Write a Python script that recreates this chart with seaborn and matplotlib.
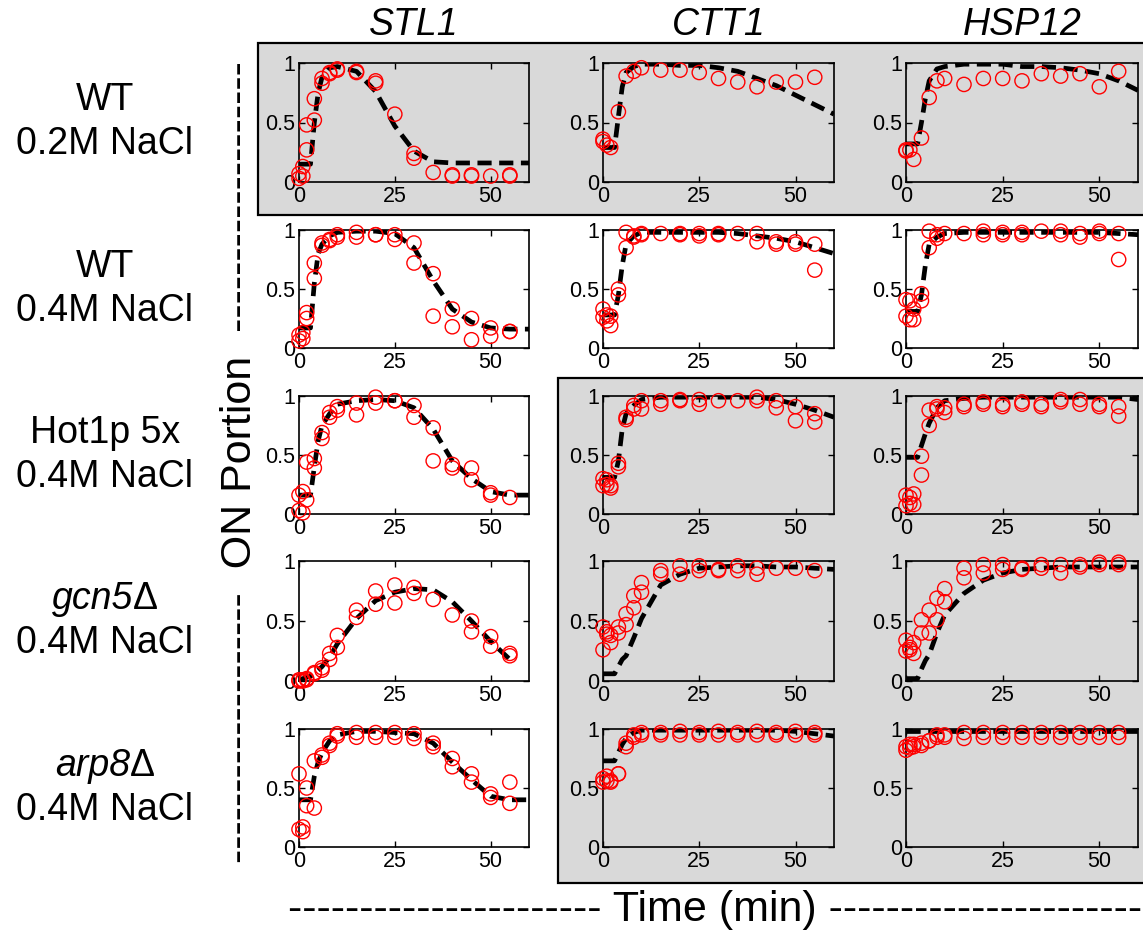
import numpy as np
import matplotlib.pyplot as plt
import seaborn as sns
from matplotlib.patches import Rectangle

nan = np.nan

# --- Data ---
T_OBS = [0, 1, 2, 4, 6, 8, 10, 15, 20, 25, 30, 35, 40, 45, 50, 55]
FIT_T = [0, 3, 4, 5, 6, 8, 10, 15, 20, 25, 30, 35, 40, 45, 50, 55, 60]

GENES = ["STL1", "CTT1", "HSP12"]
STRAINS = ["WT", "WT", "Hot1p 5x", "gcn5", "arp8"]
ITALIC_STRAIN = [False, False, False, True, True]
SALTS = ["0.2M NaCl", "0.4M NaCl", "0.4M NaCl", "0.4M NaCl", "0.4M NaCl"]

# WT 0.2M
STL1_WT02_A = [0.07, 0.13, 0.48, 0.70, 0.87, 0.92, 0.95, 0.93, 0.85, 0.57, 0.24, 0.08, 0.06, 0.06, 0.05, 0.06]
STL1_WT02_B = [0.03, 0.05, 0.27, 0.52, 0.83, 0.91, 0.94, 0.92, 0.83, nan, 0.20, nan, 0.05, 0.05, nan, 0.05]
STL1_WT02_FIT = [0.15, 0.15, 0.5, 0.75, 0.88, 0.96, 0.97, 0.93, 0.76, 0.47, 0.26, 0.17, 0.16, 0.16, 0.16, 0.16, 0.16]
CTT1_WT02_A = [0.36, 0.31, 0.29, 0.59, 0.89, 0.93, 0.96, 0.94, 0.94, 0.92, 0.87, 0.84, 0.80, 0.84, 0.84, 0.88]
CTT1_WT02_B = [0.34, nan, nan, nan, nan, nan, nan, nan, nan, nan, nan, nan, nan, nan, nan, nan]
CTT1_WT02_FIT = [0.29, 0.29, 0.55, 0.8, 0.92, 0.97, 0.99, 0.99, 0.98, 0.98, 0.96, 0.93, 0.87, 0.81, 0.73, 0.65, 0.57]
HSP12_WT02_A = [0.27, 0.27, 0.19, 0.37, 0.71, 0.85, 0.87, 0.82, 0.87, 0.87, 0.85, 0.91, 0.89, 0.91, 0.80, 0.93]
HSP12_WT02_B = [0.26, nan, nan, nan, nan, nan, nan, nan, nan, nan, nan, nan, nan, nan, nan, nan]
HSP12_WT02_FIT = [0.32, 0.32, 0.5, 0.7, 0.85, 0.95, 0.97, 0.99, 0.99, 0.99, 0.97, 0.97, 0.96, 0.94, 0.91, 0.85, 0.77]

# WT 0.4M
STL1_WT04_A = [0.11, 0.13, 0.30, 0.72, 0.89, 0.92, 0.96, 0.98, 0.96, 0.96, 0.89, 0.63, 0.33, 0.25, 0.17, 0.14]
STL1_WT04_B = [0.06, 0.08, 0.25, 0.59, 0.87, 0.91, 0.94, 0.94, 0.96, 0.92, 0.72, 0.27, 0.18, 0.07, 0.10, 0.14]
STL1_WT04_FIT = [0.17, 0.17, 0.55, 0.8, 0.88, 0.95, 0.98, 0.99, 0.99, 0.97, 0.85, 0.57, 0.33, 0.22, 0.17, 0.16, 0.16]
CTT1_WT04_A = [0.33, 0.28, 0.27, 0.50, 0.98, 0.95, 0.97, 0.97, 0.97, 0.97, 0.97, 0.97, 0.97, 0.90, 0.90, 0.88]
CTT1_WT04_B = [0.26, 0.23, 0.19, 0.45, 0.85, 0.94, 0.96, nan, 0.96, 0.95, 0.96, nan, 0.90, 0.88, 0.88, 0.66]
CTT1_WT04_FIT = [0.28, 0.28, 0.45, 0.7, 0.88, 0.95, 0.98, 0.98, 0.98, 0.98, 0.98, 0.97, 0.95, 0.93, 0.90, 0.85, 0.80]
HSP12_WT04_A = [0.41, 0.40, 0.33, 0.46, 0.99, 0.96, 0.97, 0.97, 0.99, 0.98, 0.98, 0.99, 0.99, 0.97, 0.99, 0.97]
HSP12_WT04_B = [0.27, 0.24, 0.24, 0.40, 0.85, 0.93, nan, nan, 0.96, 0.96, 0.96, nan, 0.96, 0.94, 0.97, 0.75]
HSP12_WT04_FIT = [0.31, 0.31, 0.45, 0.7, 0.88, 0.94, 0.97, 0.98, 0.98, 0.98, 0.98, 0.98, 0.98, 0.98, 0.98, 0.97, 0.96]

# Hot1p 5x
STL1_HOT_A = [0.16, 0.19, 0.44, 0.47, 0.69, 0.86, 0.91, 0.94, 0.99, 0.96, 0.92, 0.73, 0.42, 0.39, 0.18, 0.14]
STL1_HOT_B = [0.03, 0.01, 0.12, 0.39, 0.64, 0.82, 0.88, 0.84, 0.94, 0.96, 0.82, 0.45, 0.39, 0.29, 0.16, nan]
STL1_HOT_FIT = [0.16, 0.16, 0.4, 0.62, 0.75, 0.85, 0.93, 0.96, 0.97, 0.96, 0.90, 0.72, 0.45, 0.3, 0.19, 0.16, 0.16]
CTT1_HOT_A = [0.30, 0.29, 0.24, 0.43, 0.82, 0.92, 0.96, 0.96, 0.97, 0.97, 0.96, 0.96, 0.99, 0.96, 0.91, 0.85]
CTT1_HOT_B = [0.24, 0.25, 0.22, 0.40, 0.80, 0.89, 0.89, 0.93, 0.96, 0.93, nan, nan, 0.96, 0.90, 0.79, 0.78]
CTT1_HOT_FIT = [0.31, 0.31, 0.45, 0.72, 0.85, 0.92, 0.97, 0.99, 0.99, 0.99, 0.99, 0.99, 0.99, 0.97, 0.93, 0.88, 0.82]
HSP12_HOT_A = [0.16, 0.14, 0.17, 0.49, 0.88, 0.91, 0.90, 0.93, 0.95, 0.93, 0.95, 0.93, 0.97, 0.97, 0.93, 0.91]
HSP12_HOT_B = [0.07, 0.09, 0.08, 0.33, 0.75, 0.89, 0.86, 0.91, 0.93, 0.91, 0.93, 0.91, 0.95, 0.93, 0.91, 0.83]
HSP12_HOT_FIT = [0.48, 0.48, 0.58, 0.68, 0.77, 0.9, 0.96, 0.98, 0.99, 0.99, 0.99, 0.99, 0.99, 0.99, 0.99, 0.99, 0.97]

# gcn5 delta
STL1_GCN5_A = [0.01, 0.01, 0.02, 0.07, 0.11, 0.23, 0.38, 0.59, 0.75, 0.80, 0.78, 0.68, 0.55, 0.50, 0.37, 0.23]
STL1_GCN5_B = [0.0, 0.0, 0.01, 0.06, 0.09, 0.18, 0.28, 0.53, 0.64, 0.65, 0.73, nan, nan, 0.41, 0.29, 0.21]
STL1_GCN5_FIT = [0.01, 0.04, 0.06, 0.09, 0.12, 0.2, 0.31, 0.52, 0.67, 0.74, 0.77, 0.76, 0.66, 0.50, 0.33, 0.18, nan]
CTT1_GCN5_A = [0.45, 0.41, 0.38, 0.45, 0.56, 0.71, 0.82, 0.92, 0.96, 0.96, 0.93, 0.96, 0.94, 0.94, 0.94, 0.92]
CTT1_GCN5_B = [0.26, 0.39, 0.32, 0.40, 0.47, 0.61, 0.74, 0.89, 0.89, 0.92, 0.92, 0.92, 0.89, nan, nan, nan]
CTT1_GCN5_FIT = [0.06, 0.06, 0.12, 0.18, 0.21, 0.36, 0.52, 0.80, 0.89, 0.94, 0.95, 0.96, 0.96, 0.95, 0.95, 0.94, 0.93]
HSP12_GCN5_A = [0.34, 0.28, 0.32, 0.51, 0.59, 0.69, 0.77, 0.94, 0.97, 0.97, 0.94, 0.97, 0.97, 0.97, 0.99, 0.99]
HSP12_GCN5_B = [0.25, 0.26, 0.23, 0.40, 0.40, 0.51, 0.66, 0.86, 0.90, 0.93, 0.93, 0.94, 0.90, 0.95, 0.97, 0.97]
HSP12_GCN5_FIT = [0.02, 0.02, 0.1, 0.17, 0.22, 0.4, 0.55, 0.73, 0.84, 0.9, 0.93, 0.94, 0.95, 0.95, 0.95, 0.95, 0.95]

# arp8 delta
STL1_ARP8_A = [0.62, 0.17, 0.50, 0.73, 0.78, 0.88, 0.96, 0.97, 0.97, 0.97, 0.96, 0.88, 0.75, 0.62, 0.45, 0.55]
STL1_ARP8_B = [0.15, 0.13, 0.35, 0.33, 0.76, 0.86, 0.94, 0.93, 0.93, 0.93, 0.92, 0.85, 0.68, 0.55, 0.42, 0.37]
STL1_ARP8_FIT = [0.4, 0.4, 0.6, 0.72, 0.8, 0.9, 0.95, 0.98, 0.98, 0.97, 0.96, 0.88, 0.72, 0.57, 0.43, 0.4, 0.4]
CTT1_ARP8_A = [0.58, 0.60, 0.55, 0.62, 0.88, 0.95, 0.97, 0.97, 0.98, 0.97, 0.98, 0.97, 0.98, 0.97, 0.98, 0.97]
CTT1_ARP8_B = [0.55, 0.56, 0.56, 0.62, 0.85, 0.93, 0.95, 0.95, 0.95, 0.95, 0.95, 0.95, 0.95, 0.95, 0.95, 0.95]
CTT1_ARP8_FIT = [0.73, 0.73, 0.8, 0.87, 0.92, 0.97, 0.99, 0.99, 0.99, 0.99, 0.99, 0.99, 0.99, 0.99, 0.98, 0.96, 0.94]
HSP12_ARP8_A = [0.85, 0.87, 0.87, 0.88, 0.90, 0.95, 0.95, 0.97, 0.97, 0.97, 0.97, 0.97, 0.97, 0.97, 0.97, 0.97]
HSP12_ARP8_B = [0.82, 0.84, 0.85, 0.86, 0.90, 0.93, 0.93, 0.92, 0.93, 0.93, 0.93, 0.93, 0.93, 0.93, 0.93, 0.93]
HSP12_ARP8_FIT = [0.98, 0.98, 0.98, 0.98, 0.98, 0.98, 0.98, 0.98, 0.98, 0.98, 0.98, 0.98, 0.98, 0.98, 0.98, 0.98, 0.98]

PANELS = [
    [(STL1_WT02_A, STL1_WT02_B, STL1_WT02_FIT), (CTT1_WT02_A, CTT1_WT02_B, CTT1_WT02_FIT), (HSP12_WT02_A, HSP12_WT02_B, HSP12_WT02_FIT)],
    [(STL1_WT04_A, STL1_WT04_B, STL1_WT04_FIT), (CTT1_WT04_A, CTT1_WT04_B, CTT1_WT04_FIT), (HSP12_WT04_A, HSP12_WT04_B, HSP12_WT04_FIT)],
    [(STL1_HOT_A, STL1_HOT_B, STL1_HOT_FIT), (CTT1_HOT_A, CTT1_HOT_B, CTT1_HOT_FIT), (HSP12_HOT_A, HSP12_HOT_B, HSP12_HOT_FIT)],
    [(STL1_GCN5_A, STL1_GCN5_B, STL1_GCN5_FIT), (CTT1_GCN5_A, CTT1_GCN5_B, CTT1_GCN5_FIT), (HSP12_GCN5_A, HSP12_GCN5_B, HSP12_GCN5_FIT)],
    [(STL1_ARP8_A, STL1_ARP8_B, STL1_ARP8_FIT), (CTT1_ARP8_A, CTT1_ARP8_B, CTT1_ARP8_FIT), (HSP12_ARP8_A, HSP12_ARP8_B, HSP12_ARP8_FIT)],
]

# panels sitting on the grey background
GREY_PANELS = {(0, 0), (0, 1), (0, 2), (2, 1), (2, 2), (3, 1), (3, 2), (4, 1), (4, 2)}

# --- Style ---
sns.set_style("ticks")
plt.rcParams['font.family'] = ['Liberation Sans', 'DejaVu Sans']
plt.rcParams['text.color'] = 'black'
plt.rcParams['xtick.color'] = 'black'
plt.rcParams['ytick.color'] = 'black'

W, H = 1143, 936
GREY = "#d9d9d9"
fig = plt.figure(figsize=(W / 100, H / 100), dpi=100)


def fx(x):
    return x / W


def fy(y):
    return 1 - y / H


# grey boxes behind the highlighted panels
for (x0, y0, x1, y1) in [(258, 43, 1150, 215), (558, 378, 1150, 883)]:
    fig.patches.append(Rectangle((fx(x0), fy(y1)), fx(x1 - x0), (y1 - y0) / H,
                                 transform=fig.transFigure, facecolor=GREY,
                                 edgecolor="black", linewidth=1.6, zorder=-5))

col_left = [299, 603, 906]
col_width = [230, 231, 232]
row_top = [63, 230, 396, 561, 729]
row_bottom = [182, 348, 514, 681, 847]

for r in range(5):
    for c in range(3):
        a, b, fit = PANELS[r][c]
        ax = fig.add_axes([fx(col_left[c]), fy(row_bottom[r]),
                           fx(col_width[c]), (row_bottom[r] - row_top[r]) / H])
        ax.set_facecolor(GREY if (r, c) in GREY_PANELS else "white")

        sns.lineplot(x=FIT_T, y=fit, ax=ax, color="black", linewidth=3.4,
                     errorbar=None, zorder=2)
        ax.lines[-1].set_dashes((3.0, 1.6))
        for rep in (a, b):
            sns.scatterplot(x=T_OBS, y=rep, ax=ax, marker="o", s=105,
                            facecolor="none", edgecolor="red", linewidth=1.0,
                            clip_on=False, zorder=3, legend=False)

        ax.set_xlim(0, 60)
        ax.set_ylim(0, 1)
        ax.set_xticks([0, 25, 50])
        ax.set_yticks([0, 0.5, 1])
        ax.set_yticklabels(["0", "0.5", "1"])
        ax.tick_params(direction="in", top=True, right=True, length=4,
                       width=1, labelsize=15.5, pad=3, colors="black")
        ax.set_xlabel("")
        ax.set_ylabel("")
        for s in ax.spines.values():
            s.set_linewidth(1.2)
            s.set_color("black")

# column titles
for c, gene in enumerate(GENES):
    fig.text(fx(col_left[c] + col_width[c] / 2), fy(25), gene, style="italic",
             fontsize=27, ha="center", va="center")

# row labels (mutant names: italic gene + upright delta)
renderer = fig.canvas.get_renderer()
for r in range(5):
    yc = (row_top[r] + row_bottom[r]) / 2
    if ITALIC_STRAIN[r]:
        probe = fig.text(0, 0, STRAINS[r] + "Δ", fontsize=27)
        total = probe.get_window_extent(renderer).width
        probe.remove()
        delta = fig.text(0, 0, "Δ", fontsize=27)
        dw = delta.get_window_extent(renderer).width
        delta.remove()
        x_split = 105 - total / 2 + (total - dw)
        fig.text(fx(x_split), fy(yc - 22), STRAINS[r], style="italic",
                 fontsize=27, ha="right", va="center")
        fig.text(fx(x_split), fy(yc - 22), "Δ", fontsize=27, ha="left", va="center")
    else:
        fig.text(fx(105), fy(yc - 22), STRAINS[r], fontsize=27, ha="center", va="center")
    fig.text(fx(105), fy(yc + 22), SALTS[r], fontsize=27, ha="center", va="center")

fig.text(fx(240), fy(462), "-" * 19 + "  ON Portion  " + "-" * 19, rotation=90,
         fontsize=31, ha="center", va="center")
fig.text(fx(715), fy(910), "-" * 22 + " Time (min) " + "-" * 22,
         fontsize=31, ha="center", va="center")

fig.savefig("out.png", dpi=100)
